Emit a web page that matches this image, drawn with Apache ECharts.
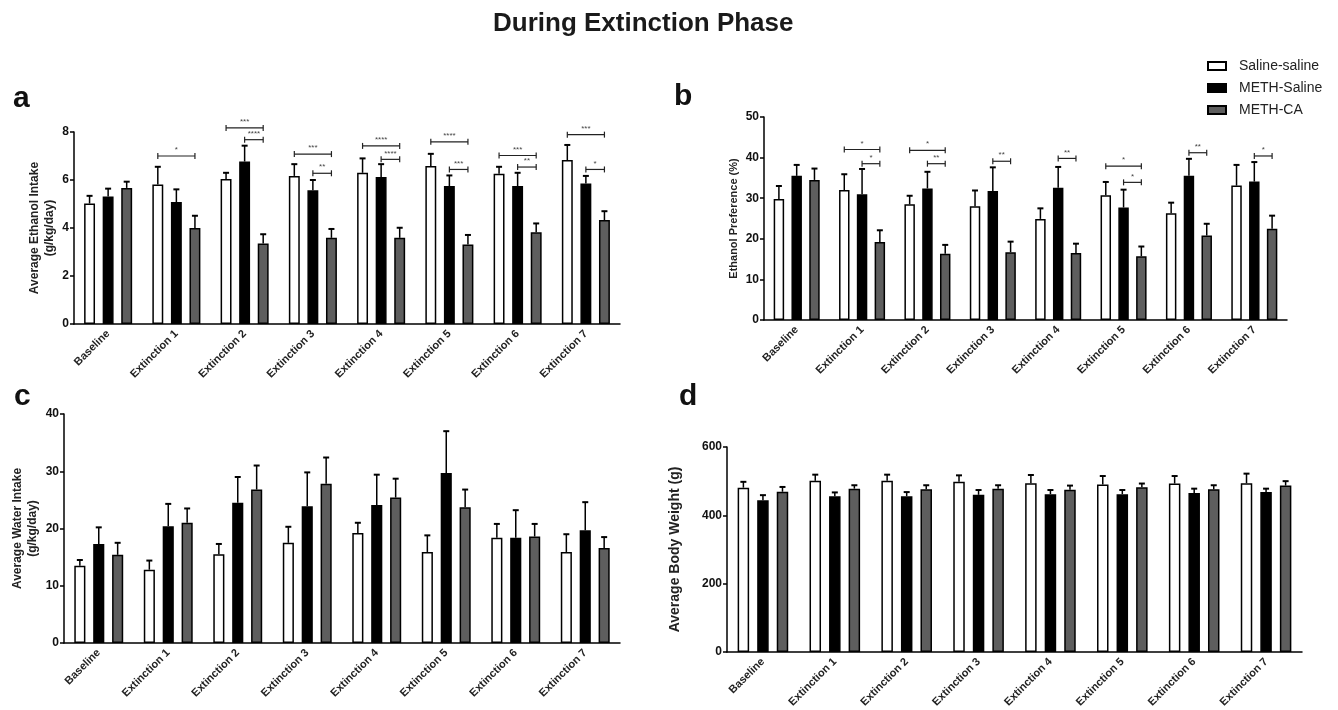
<!DOCTYPE html>
<html>
  <head>
    <meta charset="UTF-8" />
    <title>During Extinction Phase</title>
    <style>
      html, body { margin: 0; padding: 0; background: #fff; }
      #chart { width: 1338px; height: 710px; }
    </style>
    <script src="https://cdn.jsdelivr.net/npm/echarts@6/dist/echarts.min.js"></script>
  </head>
  <body>
    <div id="chart"></div>
    <script>
      const categories = ['Baseline', 'Extinction 1', 'Extinction 2', 'Extinction 3',
        'Extinction 4', 'Extinction 5', 'Extinction 6', 'Extinction 7'];
      const groups = ['Saline-saline', 'METH-Saline', 'METH-CA'];

      // a - average ethanol intake (g/kg/day)
      const ethSalSal = [5.02, 5.81, 6.04, 6.17, 6.30, 6.58, 6.26, 6.83];
      const ethSalSalErr = [0.32, 0.74, 0.26, 0.49, 0.60, 0.51, 0.29, 0.63];
      const ethMethSal = [5.31, 5.08, 6.77, 5.57, 6.12, 5.75, 5.75, 5.85];
      const ethMethSalErr = [0.33, 0.53, 0.66, 0.43, 0.54, 0.44, 0.55, 0.32];
      const ethMethCa = [5.67, 4.00, 3.35, 3.59, 3.59, 3.31, 3.82, 4.33];
      const ethMethCaErr = [0.26, 0.51, 0.39, 0.37, 0.42, 0.40, 0.37, 0.37];
      // [category, from group, to group, height, stars]
      const ethSig = [[1, 0, 2, 7.0, '*'], [2, 0, 2, 8.17, '***'], [2, 1, 2, 7.68, '****'],
        [3, 0, 2, 7.08, '***'], [3, 1, 2, 6.28, '**'], [4, 0, 2, 7.42, '****'], [4, 1, 2, 6.86, '****'],
        [5, 0, 2, 7.59, '****'], [5, 1, 2, 6.44, '***'], [6, 0, 2, 7.02, '***'], [6, 1, 2, 6.54, '**'],
        [7, 0, 2, 7.89, '***'], [7, 1, 2, 6.44, '*']];

      // b - ethanol preference (%)
      const prefSalSal = [29.8, 32.0, 28.5, 28.0, 24.9, 30.7, 26.3, 33.1];
      const prefSalSalErr = [3.2, 3.9, 2.1, 3.9, 2.6, 3.3, 2.6, 5.1];
      const prefMethSal = [35.5, 31.0, 32.4, 31.8, 32.6, 27.7, 35.5, 34.1];
      const prefMethSalErr = [2.7, 6.2, 4.1, 5.8, 5.1, 4.4, 4.2, 4.8];
      const prefMethCa = [34.5, 19.2, 16.3, 16.7, 16.5, 15.7, 20.8, 22.5];
      const prefMethCaErr = [2.8, 2.9, 2.2, 2.6, 2.3, 2.4, 2.9, 3.2];
      const prefSig = [[1, 0, 2, 42.0, '*'], [1, 1, 2, 38.5, '*'], [2, 0, 2, 41.8, '*'],
        [2, 1, 2, 38.5, '**'], [3, 1, 2, 39.1, '**'], [4, 1, 2, 39.8, '**'], [5, 0, 2, 37.9, '*'],
        [5, 1, 2, 33.9, '*'], [6, 1, 2, 41.2, '**'], [7, 1, 2, 40.4, '*']];

      // c - average water intake (g/kg/day)
      const waterSalSal = [13.5, 12.8, 15.5, 17.5, 19.2, 15.9, 18.4, 15.9];
      const waterSalSalErr = [1.0, 1.6, 1.8, 2.8, 1.8, 2.9, 2.4, 3.1];
      const waterMethSal = [17.3, 20.4, 24.5, 23.9, 24.1, 29.7, 18.4, 19.7];
      const waterMethSalErr = [2.9, 3.9, 4.5, 5.9, 5.3, 7.3, 4.8, 4.9];
      const waterMethCa = [15.4, 21.0, 26.8, 27.8, 25.4, 23.7, 18.6, 16.6];
      const waterMethCaErr = [2.1, 2.5, 4.2, 4.6, 3.3, 3.1, 2.2, 1.9];

      // d - average body weight (g)
      const weightSalSal = [481, 501, 501, 498, 494, 490, 493, 494];
      const weightSalSalErr = [17, 18, 18, 19, 24, 25, 22, 28];
      const weightMethSal = [444, 456, 456, 460, 462, 462, 465, 468];
      const weightMethSalErr = [15, 11, 12, 14, 12, 12, 13, 10];
      const weightMethCa = [469, 478, 476, 478, 475, 482, 476, 487];
      const weightMethCaErr = [14, 10, 12, 10, 12, 11, 12, 13];

      const FONT = '"Liberation Sans", Arial, sans-serif';
      const COLORS = ['#ffffff', '#000000', '#5e5e5e'];
      const BAR_W = 0.16;
      const BAR_GAP = 0.7;
      const STEP = BAR_W * (1 + BAR_GAP); // distance between bar centres, as share of band

      const panels = [
        { grid: { left: 74, right: 718, top: 132, bottom: 386 }, max: 8, interval: 2,
          name: 'Average Ethanol Intake\n(g/kg/day)', nameGap: 17, nameSize: 12,
          means: [ethSalSal, ethMethSal, ethMethCa], errs: [ethSalSalErr, ethMethSalErr, ethMethCaErr], sig: ethSig },
        { grid: { left: 764, right: 51, top: 117, bottom: 390 }, max: 50, interval: 10,
          name: 'Ethanol Preference (%)', nameGap: 22, nameSize: 11,
          means: [prefSalSal, prefMethSal, prefMethCa], errs: [prefSalSalErr, prefMethSalErr, prefMethCaErr], sig: prefSig },
        { grid: { left: 64, right: 718, top: 414, bottom: 67 }, max: 40, interval: 10,
          name: 'Average Water Intake\n(g/kg/day)', nameGap: 24, nameSize: 12,
          means: [waterSalSal, waterMethSal, waterMethCa], errs: [waterSalSalErr, waterMethSalErr, waterMethCaErr], sig: [] },
        { grid: { left: 727, right: 36, top: 447, bottom: 58 }, max: 600, interval: 200,
          name: 'Average Body Weight (g)', nameGap: 44, nameSize: 14,
          means: [weightSalSal, weightMethSal, weightMethCa], errs: [weightSalSalErr, weightMethSalErr, weightMethCaErr], sig: [] }
      ];

      const grids = [], xAxes = [], yAxes = [], series = [];

      panels.forEach(function (p, i) {
        grids.push(p.grid);
        xAxes.push({
          type: 'category', gridIndex: i, data: categories,
          axisLine: { lineStyle: { color: '#000', width: 1.5 } },
          axisTick: { alignWithLabel: true, length: 4, lineStyle: { color: '#000', width: 1.5 } },
          axisLabel: { rotate: 45, interval: 0, margin: 8, fontSize: 11, fontWeight: 'bold', color: '#222', fontFamily: FONT }
        });
        yAxes.push({
          type: 'value', gridIndex: i, min: 0, max: p.max, interval: p.interval,
          axisLine: { show: true, lineStyle: { color: '#000', width: 1.5 } },
          axisTick: { show: true, length: 4, lineStyle: { color: '#000', width: 1.5 } },
          splitLine: { show: false },
          axisLabel: { fontSize: 12, fontWeight: 'bold', color: '#111', margin: 5, fontFamily: FONT },
          name: p.name, nameLocation: 'middle', nameGap: p.nameGap,
          nameTextStyle: { fontSize: p.nameSize, fontWeight: 'bold', color: '#222', lineHeight: 15, fontFamily: FONT }
        });

        groups.forEach(function (g, k) {
          series.push({
            type: 'bar', name: g, xAxisIndex: i, yAxisIndex: i, data: p.means[k],
            barWidth: (BAR_W * 100) + '%', barGap: (BAR_GAP * 100) + '%',
            itemStyle: { color: COLORS[k], borderColor: '#000', borderWidth: 1.5 },
            silent: true
          });
        });

        // error bars, upward only
        const errData = [];
        groups.forEach(function (g, k) {
          categories.forEach(function (c, j) {
            errData.push([j, k, p.means[k][j], p.errs[k][j]]);
          });
        });
        series.push({
          type: 'custom', xAxisIndex: i, yAxisIndex: i, data: errData, z: 5, silent: true,
          encode: { x: 0, y: 2 },
          renderItem: function (params, api) {
            const band = api.size([1, 0])[0];
            const x = api.coord([api.value(0), 0])[0] + (api.value(1) - 1) * STEP * band;
            const y0 = api.coord([api.value(0), api.value(2)])[1];
            const y1 = api.coord([api.value(0), api.value(2) + api.value(3)])[1];
            return {
              type: 'group', children: [
                { type: 'line', shape: { x1: x, y1: y0, x2: x, y2: y1 }, style: { stroke: '#000', lineWidth: 1.5 } },
                { type: 'line', shape: { x1: x - 3, y1: y1, x2: x + 3, y2: y1 }, style: { stroke: '#000', lineWidth: 2 } }
              ]
            };
          }
        });

        // significance brackets
        if (p.sig.length) {
          const sig = p.sig;
          series.push({
            type: 'custom', xAxisIndex: i, yAxisIndex: i, data: sig.map(function (s) { return s.slice(0, 4); }),
            z: 6, silent: true, clip: false,
            encode: { x: 0, y: 3 },
            renderItem: function (params, api) {
              const band = api.size([1, 0])[0];
              const cx = api.coord([api.value(0), 0])[0];
              const xa = cx + (api.value(1) - 1) * STEP * band;
              const xb = cx + (api.value(2) - 1) * STEP * band;
              const y = api.coord([api.value(0), api.value(3)])[1];
              return {
                type: 'group', children: [
                  { type: 'line', shape: { x1: xa, y1: y, x2: xb, y2: y }, style: { stroke: '#222', lineWidth: 1.2 } },
                  { type: 'line', shape: { x1: xa, y1: y - 3, x2: xa, y2: y + 3 }, style: { stroke: '#222', lineWidth: 1.2 } },
                  { type: 'line', shape: { x1: xb, y1: y - 3, x2: xb, y2: y + 3 }, style: { stroke: '#222', lineWidth: 1.2 } },
                  { type: 'text', x: (xa + xb) / 2, y: y - 2,
                    style: { text: sig[params.dataIndex][4], fill: '#444', font: '8px ' + FONT, align: 'center', verticalAlign: 'bottom' } }
                ]
              };
            }
          });
        }
      });

      const chart = echarts.init(document.getElementById('chart'));
      chart.setOption({
        animation: false,
        backgroundColor: '#fff',
        title: [
          { text: 'During Extinction Phase', left: 493, top: 11, padding: 0,
            textStyle: { fontSize: 26, fontWeight: 'bold', color: '#1a1a1a', fontFamily: FONT } },
          { text: 'a', left: 13, top: 84, padding: 0, textStyle: { fontSize: 30, fontWeight: 'bold', color: '#111', fontFamily: FONT } },
          { text: 'b', left: 674, top: 82, padding: 0, textStyle: { fontSize: 30, fontWeight: 'bold', color: '#111', fontFamily: FONT } },
          { text: 'c', left: 14, top: 382, padding: 0, textStyle: { fontSize: 30, fontWeight: 'bold', color: '#111', fontFamily: FONT } },
          { text: 'd', left: 679, top: 382, padding: 0, textStyle: { fontSize: 30, fontWeight: 'bold', color: '#111', fontFamily: FONT } }
        ],
        legend: {
          data: groups, orient: 'vertical', left: 1207, top: 59, padding: 0,
          icon: 'rect', itemWidth: 18, itemHeight: 8, itemGap: 8,
          itemStyle: { borderColor: '#000', borderWidth: 2 },
          textStyle: { fontSize: 14, color: '#222', fontFamily: FONT, padding: [0, 0, 0, 8] }
        },
        grid: grids,
        xAxis: xAxes,
        yAxis: yAxes,
        series: series
      });
    </script>
  </body>
</html>
